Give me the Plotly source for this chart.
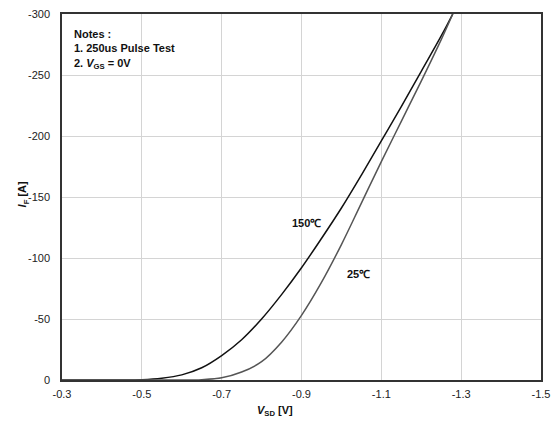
import plotly.graph_objects as go

# Forward characteristics of the body diode: V_SD vs I_F at two junction temperatures
vsd_150 = [-0.30, -0.40, -0.45, -0.50, -0.55, -0.60, -0.65, -0.70, -0.75, -0.80,
           -0.85, -0.90, -0.95, -1.00, -1.05, -1.10, -1.15, -1.20, -1.25, -1.279]
if_150 = [0, 0, 0, -0.3, -1.5, -4.2, -10, -20, -33, -50,
          -70, -92, -116, -141, -168, -196, -224, -253, -282, -300]

vsd_25 = [-0.30, -0.55, -0.60, -0.65, -0.70, -0.75, -0.80, -0.85, -0.90, -0.95,
          -1.00, -1.05, -1.10, -1.15, -1.20, -1.25, -1.279]
if_25 = [0, 0, 0, -0.3, -1.8, -6.5, -15, -31, -53, -80,
         -111, -145, -179, -212, -245, -279, -300]

x_ticks = [-0.3, -0.5, -0.7, -0.9, -1.1, -1.3, -1.5]
x_tick_text = ["-0.3", "-0.5", "-0.7", "-0.9", "-1.1", "-1.3", "-1.5"]
y_ticks = [0, -50, -100, -150, -200, -250, -300]
y_tick_text = ["0", "-50", "-100", "-150", "-200", "-250", "-300"]

FONT = "Liberation Sans, Arial, sans-serif"

fig = go.Figure()
fig.add_trace(go.Scatter(x=vsd_150, y=if_150, mode="lines",
                         line=dict(color="#111111", width=1.5, shape="spline", smoothing=1.0),
                         hoverinfo="skip", showlegend=False))
fig.add_trace(go.Scatter(x=vsd_25, y=if_25, mode="lines",
                         line=dict(color="#555555", width=1.5, shape="spline", smoothing=1.0),
                         hoverinfo="skip", showlegend=False))

axis_common = dict(showgrid=True, gridcolor="#d4d4d4", gridwidth=1,
                   showline=True, linecolor="#333333", linewidth=1.5, mirror=True,
                   ticks="", zeroline=False,
                   tickfont=dict(family=FONT, size=11, color="#222222"))

fig.update_xaxes(range=[-0.3, -1.5], tickmode="array", tickvals=x_ticks,
                 ticktext=x_tick_text, ticklabelstandoff=3, **axis_common)
fig.update_yaxes(range=[0, -300], tickmode="array", tickvals=y_ticks,
                 ticktext=y_tick_text, ticklabelstandoff=8, **axis_common)

annotations = [
    dict(text="<b><i>V</i><sub>SD</sub> [V]</b>", x=0.5, xref="paper", xanchor="center",
         y=411, yref="paper", showarrow=False,
         font=dict(family=FONT, size=11, color="#111111")),
    dict(text="<b><i>I</i><sub>F</sub> [A]</b>", x=13, y=194, textangle=-90,
         showarrow=False, font=dict(family=FONT, size=11, color="#111111")),
    dict(text="<b>Notes :<br>1. 250us Pulse Test<br>2. <i>V</i><sub>GS</sub> = 0V</b>",
         x=72, y=25, xanchor="left", yanchor="top", align="left", showarrow=False,
         font=dict(family=FONT, size=11, color="#111111")),
    dict(text="<b>150\u2103</b>", x=311, y=223, showarrow=False,
         font=dict(family=FONT, size=11, color="#111111")),
    dict(text="<b>25\u2103</b>", x=364, y=274, showarrow=False,
         font=dict(family=FONT, size=11, color="#111111")),
]

# Convert pixel positions to paper coordinates for the free-standing labels
W, H = 558, 421
L, R, T, B = 62, 8, 13, 41
pw, ph = W - L - R, H - T - B
for a in annotations:
    if a.get("xref") != "paper":
        a["x"] = (a["x"] - L) / pw
        a["xref"] = "paper"
    a["y"] = 1 - (a["y"] - T) / ph
    a["yref"] = "paper"
    if "yanchor" not in a:
        a["yanchor"] = "middle"
annotations[0]["x"] = (W / 2 - L) / pw

fig.update_layout(width=W, height=H, margin=dict(l=L, r=R, t=T, b=B),
                  paper_bgcolor="white", plot_bgcolor="white",
                  annotations=annotations,
                  font=dict(family=FONT, size=11, color="#222222"))

fig.write_html("out.html")
